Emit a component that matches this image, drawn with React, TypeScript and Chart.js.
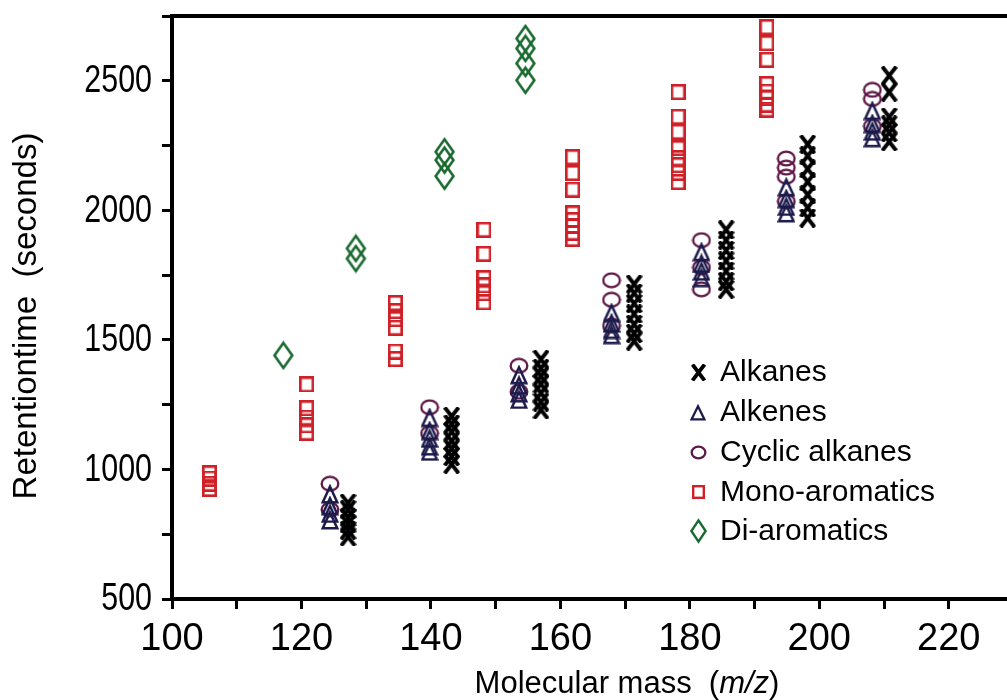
import React, { useEffect, useRef } from 'react';
import { Chart, registerables } from 'chart.js';

Chart.register(...registerables);

// Molecular mass (m/z) of each compound group and the retention times (s) measured for it
const alkanesMass = [127.2, 143.2, 157.0, 171.4, 185.6, 198.2, 210.8];
const alkanesTimes = [
  [870, 845, 815, 790, 765, 740],
  [1205, 1175, 1145, 1110, 1080, 1050, 1020],
  [1425, 1390, 1360, 1330, 1295, 1260, 1230],
  [1715, 1680, 1640, 1600, 1560, 1525, 1495],
  [1925, 1885, 1845, 1805, 1765, 1725, 1695],
  [2255, 2210, 2160, 2110, 2060, 2010, 1970],
  [2520, 2456, 2360, 2330, 2300, 2265],
];

const alkenesMass = [124.4, 139.8, 153.6, 167.9, 181.8, 194.9, 208.2];
const alkenesTimes = [
  [905, 860, 830, 805],
  [1200, 1150, 1120, 1090, 1070],
  [1365, 1325, 1295, 1270],
  [1605, 1565, 1540, 1520],
  [1840, 1795, 1765, 1740],
  [2090, 2045, 2015, 1990],
  [2385, 2335, 2305, 2280],
];

const cyclicMass = [124.4, 139.8, 153.6, 167.9, 181.8, 194.9, 208.2];
const cyclicTimes = [
  [945, 845],
  [1240, 1140],
  [1400, 1300],
  [1730, 1655, 1555],
  [1885, 1780, 1695],
  [2200, 2165, 2130, 2035],
  [2465, 2430, 2325],
];

const monoMass = [105.8, 120.8, 134.5, 148.2, 161.9, 178.2, 191.9];
const monoTimes = [
  [985, 965, 945, 925],
  [1328, 1236, 1200, 1170, 1142],
  [1642, 1611, 1580, 1547, 1455, 1426],
  [1925, 1832, 1738, 1710, 1680, 1645],
  [2205, 2144, 2080, 1988, 1962, 1939, 1914, 1890],
  [2456, 2361, 2303, 2240, 2201, 2174, 2145, 2109],
  [2707, 2645, 2581, 2487, 2458, 2433, 2408, 2389],
];

const diMass = [117.2, 128.4, 142.1, 154.6];
const diTimes = [
  [1440],
  [1853, 1814],
  [2226, 2194, 2132],
  [2663, 2625, 2567, 2502],
];

const seriesNames = ['Alkanes', 'Alkenes', 'Cyclic alkanes', 'Mono-aromatics', 'Di-aromatics'];
const seriesColors = ['#000000', '#1d1b4c', '#5f1745', '#cf2027', '#1a6a30'];

const xTicks = [100, 110, 120, 130, 140, 150, 160, 170, 180, 190, 200, 210, 220];
const yTicks = [500, 750, 1000, 1250, 1500, 1750, 2000, 2250, 2500, 2750];

const TEXT_FONT = '"Liberation Sans", Arial, sans-serif';

function toPoints(mass: number[], times: number[][]) {
  return mass.flatMap((m, i) => times[i].map((t) => ({ x: m, y: t })));
}

type Painter = (ctx: CanvasRenderingContext2D, w: number, h: number) => void;

function marker(w: number, h: number, paint: Painter): HTMLCanvasElement {
  const c = document.createElement('canvas');
  c.width = w;
  c.height = h;
  const ctx = c.getContext('2d')!;
  paint(ctx, w, h);
  return c;
}

function xMark(w: number, h: number, lw: number, color: string) {
  return marker(w, h, (ctx) => {
    ctx.strokeStyle = color;
    ctx.lineWidth = lw;
    ctx.lineCap = 'butt';
    ctx.beginPath();
    ctx.moveTo(1.5, 0.5);
    ctx.lineTo(w - 1.5, h - 0.5);
    ctx.moveTo(w - 1.5, 0.5);
    ctx.lineTo(1.5, h - 0.5);
    ctx.stroke();
  });
}

function triangleMark(w: number, h: number, lw: number, color: string) {
  return marker(w, h, (ctx) => {
    ctx.strokeStyle = color;
    ctx.lineWidth = lw;
    ctx.lineJoin = 'miter';
    ctx.beginPath();
    ctx.moveTo(w / 2, lw);
    ctx.lineTo(w - lw / 2 - 0.5, h - lw / 2 - 0.5);
    ctx.lineTo(lw / 2 + 0.5, h - lw / 2 - 0.5);
    ctx.closePath();
    ctx.stroke();
  });
}

function ellipseMark(w: number, h: number, lw: number, color: string) {
  return marker(w, h, (ctx) => {
    ctx.strokeStyle = color;
    ctx.lineWidth = lw;
    ctx.beginPath();
    ctx.ellipse(w / 2, h / 2, w / 2 - lw / 2 - 0.5, h / 2 - lw / 2 - 0.5, 0, 0, Math.PI * 2);
    ctx.stroke();
  });
}

function squareMark(w: number, h: number, lw: number, color: string) {
  return marker(w, h, (ctx) => {
    ctx.strokeStyle = color;
    ctx.lineWidth = lw;
    ctx.strokeRect(lw / 2, lw / 2, w - lw, h - lw);
  });
}

function diamondMark(w: number, h: number, lw: number, color: string) {
  return marker(w, h, (ctx) => {
    ctx.strokeStyle = color;
    ctx.lineWidth = lw;
    ctx.lineJoin = 'miter';
    ctx.beginPath();
    ctx.moveTo(w / 2, lw);
    ctx.lineTo(w - lw, h / 2);
    ctx.lineTo(w / 2, h - lw);
    ctx.lineTo(lw, h / 2);
    ctx.closePath();
    ctx.stroke();
  });
}

export default function App() {
  const canvasRef = useRef<HTMLCanvasElement | null>(null);

  useEffect(() => {
    const canvas = canvasRef.current;
    if (!canvas) return;

    const plotMarks = [
      xMark(17, 19, 4, seriesColors[0]),
      triangleMark(18, 20, 2.5, seriesColors[1]),
      ellipseMark(20, 17, 2.3, seriesColors[2]),
      squareMark(15, 16, 2.6, seriesColors[3]),
      diamondMark(23, 30, 2.6, seriesColors[4]),
    ];
    const legendMarks = [
      xMark(15, 17, 3.8, seriesColors[0]),
      triangleMark(16, 17, 2.3, seriesColors[1]),
      ellipseMark(17, 15, 2.3, seriesColors[2]),
      squareMark(13, 14, 2.4, seriesColors[3]),
      diamondMark(19, 26, 2.4, seriesColors[4]),
    ];

    const seriesPoints = [
      toPoints(alkanesMass, alkanesTimes),
      toPoints(alkenesMass, alkenesTimes),
      toPoints(cyclicMass, cyclicTimes),
      toPoints(monoMass, monoTimes),
      toPoints(diMass, diTimes),
    ];

    const frameAndText = {
      id: 'frameAndText',
      afterDraw(chart: any) {
        const { ctx, chartArea } = chart;
        const yScale = chart.scales.y;
        ctx.save();
        // top frame line
        ctx.strokeStyle = '#000';
        ctx.lineWidth = 4;
        ctx.beginPath();
        ctx.moveTo(chartArea.left - 2, chartArea.top);
        ctx.lineTo(chartArea.right, chartArea.top);
        ctx.stroke();

        ctx.fillStyle = '#000';

        // y tick labels, in a condensed face
        ctx.font = `38px ${TEXT_FONT}`;
        ctx.textAlign = 'right';
        ctx.textBaseline = 'middle';
        yTicks
          .filter((v) => v % 500 === 0)
          .forEach((v) => {
            const py = yScale.getPixelForValue(v);
            ctx.save();
            ctx.translate(chartArea.left - 20, py + 1);
            ctx.scale(0.8, 1);
            ctx.fillText(String(v), 0, 0);
            ctx.restore();
          });

        // x-axis title with italic m/z
        ctx.textAlign = 'left';
        const partA = 'Molecular mass  (';
        const partB = 'm/z';
        const partC = ')';
        const normal = `31px ${TEXT_FONT}`;
        const italic = `italic 31px ${TEXT_FONT}`;
        ctx.font = normal;
        const wA = ctx.measureText(partA).width;
        const wC = ctx.measureText(partC).width;
        ctx.font = italic;
        const wB = ctx.measureText(partB).width;
        let x = 627 - (wA + wB + wC) / 2;
        const ty = 684;
        ctx.font = normal;
        ctx.fillText(partA, x, ty);
        x += wA;
        ctx.font = italic;
        ctx.fillText(partB, x, ty);
        x += wB;
        ctx.font = normal;
        ctx.fillText(partC, x, ty);

        // y-axis title
        ctx.save();
        ctx.translate(27, 316);
        ctx.rotate(-Math.PI / 2);
        ctx.textAlign = 'center';
        ctx.font = `33px ${TEXT_FONT}`;
        ctx.fillText('Retentiontime  (seconds)', 0, 0);
        ctx.restore();

        // legend
        const rowY = [372, 412, 452, 492, 531];
        ctx.font = `30px ${TEXT_FONT}`;
        ctx.textAlign = 'left';
        seriesNames.forEach((name, i) => {
          const m = legendMarks[i];
          ctx.drawImage(m, Math.round(698 - m.width / 2), Math.round(rowY[i] - m.height / 2));
          ctx.fillText(name, 720, rowY[i] + 1);
        });
        ctx.restore();
      },
    };

    const chart = new Chart(canvas, {
      type: 'scatter',
      data: {
        datasets: seriesNames.map((name, i) => ({
          label: name,
          data: seriesPoints[i],
          pointStyle: plotMarks[i],
          pointRadius: 8,
          pointHoverRadius: 8,
          borderColor: seriesColors[i],
          backgroundColor: 'transparent',
          showLine: false,
        })),
      },
      options: {
        animation: false,
        responsive: false,
        events: [],
        layout: { autoPadding: false, padding: { top: 16, right: 0, bottom: 0, left: 0 } },
        plugins: {
          legend: { display: false },
          tooltip: { enabled: false },
        },
        scales: {
          x: {
            type: 'linear',
            min: 100,
            max: 229,
            afterBuildTicks: (scale: any) => {
              scale.ticks = xTicks.map((v) => ({ value: v }));
            },
            afterFit: (scale: any) => {
              scale.height = 101;
              scale.paddingLeft = 0;
              scale.paddingRight = 0;
            },
            border: { display: true, width: 4, color: '#000' },
            grid: {
              display: true,
              drawOnChartArea: false,
              drawTicks: true,
              tickLength: 10,
              tickWidth: 3,
              tickColor: '#000',
              color: '#000',
            },
            ticks: {
              autoSkip: false,
              maxRotation: 0,
              padding: 8,
              color: '#000',
              font: { size: 38, family: TEXT_FONT },
              callback: (v: any) => (Number(v) % 20 === 0 ? String(v) : ''),
            },
          },
          y: {
            type: 'linear',
            min: 500,
            max: 2750,
            afterBuildTicks: (scale: any) => {
              scale.ticks = yTicks.map((v) => ({ value: v }));
            },
            afterFit: (scale: any) => {
              scale.width = 172;
              scale.paddingTop = 0;
              scale.paddingBottom = 0;
            },
            border: { display: true, width: 4, color: '#000' },
            grid: {
              display: true,
              drawOnChartArea: false,
              drawTicks: true,
              tickLength: 10,
              tickWidth: 3,
              tickColor: '#000',
              color: '#000',
            },
            ticks: {
              display: false,
              autoSkip: false,
            },
          },
        },
      },
      plugins: [frameAndText],
    } as any);

    return () => {
      chart.destroy();
    };
  }, []);

  return (
    <div style={{ position: 'fixed', left: 0, top: 0, width: 1007, height: 700, background: '#fff' }}>
      <canvas ref={canvasRef} width={1007} height={700} style={{ display: 'block' }} />
    </div>
  );
}
